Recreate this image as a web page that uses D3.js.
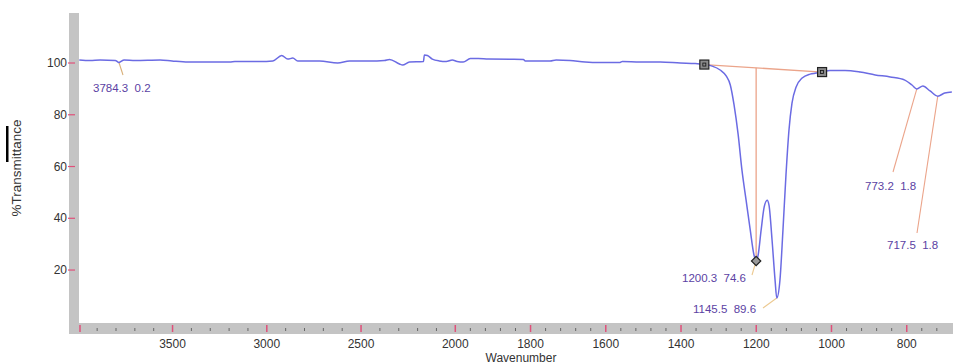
<!DOCTYPE html>
<html>
<head>
<meta charset="utf-8">
<script src="https://cdn.jsdelivr.net/npm/d3@7"></script>
<style>
  html, body { margin: 0; padding: 0; background: #fff; }
  svg { display: block; }
  text { font-family: "Liberation Sans", Arial, sans-serif; }
</style>
</head>
<body>
<svg id="chart" width="953" height="364"></svg>
<script>
// ---- data ----
const wavenumbers = [3995,3937,3884,3804,3784.3,3757,3698,3566,3503,3418,3354,3196,3169,3037,2968,2921,2889,2862,2836,2720,2624,2561,2455,2376,2349,2296,2280,2243,2169,2164,2148,2122,2085,2048,2016,1995,1979,1960,1939,1912,1819,1814,1748,1732,1695,1655,1615,1562,1556,1509,1455,1402,1362,1338,1317,1296,1280,1269,1259,1248,1238,1227,1216,1206,1200.3,1195,1187,1179,1171,1166,1158,1150,1145.5,1137,1129,1121,1113,1105,1094,1078,1057,1041,1025,1004,964,924,884,844,805,786,773.2,757,738,717.5,699,680];
const transmittance = [101.2,101.0,101.2,101.0,100.2,101.2,101.0,101.2,100.8,100.4,100.4,100.4,100.6,100.6,100.8,102.9,101.5,101.9,100.8,100.8,100.0,100.8,100.8,101.0,101.4,99.6,99.2,100.4,100.6,103.1,102.9,101.5,100.8,100.6,101.2,100.6,100.4,101.7,101.7,101.5,101.4,100.8,100.8,101.2,101.0,100.4,100.2,100.2,100.6,100.4,100.4,100.0,99.8,99.4,98.8,97.3,95.0,91.5,83.8,72.2,58.6,47.0,35.5,25.8,23.5,25.8,35.5,44.3,47.0,45.0,31.6,16.1,9.2,16.1,35.5,56.7,74.1,84.5,90.7,94.2,95.7,96.1,96.5,97.1,97.1,96.5,95.4,94.6,93.4,91.5,90.0,91.1,89.2,87.2,88.4,88.8];

const xMajorTicks = [3500,3000,2500,2000,1800,1600,1400,1200,1000,800];
const yTicks = [20,40,60,80,100];
const peakWavenumbers = [3784.3,1200.3,1145.5,773.2,717.5];
const peakHeights = [0.2,74.6,89.6,1.8,1.8];
const baselineWavenumbers = [1338,1025];
const baselineValues = [99.4,96.5];

// ---- layout ----
const svg = d3.select("#chart");
const W = 953, H = 364;
const plotLeft = 79, plotTop = 13, plotBottom = 323;

const x = d3.scaleLinear().domain([4000,2000,677]).range([78.3,455.3,953]);
const y = d3.scaleLinear().domain([0,119.4]).range([321.8,12.8]);

// grey axis bars
svg.append("rect").attr("x",69).attr("y",plotTop).attr("width",10).attr("height",334-plotTop).attr("fill","#c4c4c4");
svg.append("rect").attr("x",69).attr("y",plotBottom).attr("width",W-69).attr("height",11).attr("fill","#c4c4c4");

// x minor ticks
const minorHigh = d3.range(3900,2000,-100).filter(v => v % 500 !== 0);
const minorLow = d3.range(1960,680,-40).filter(v => v % 200 !== 0);
svg.append("g").selectAll("line").data(minorHigh.concat(minorLow)).join("line")
  .attr("x1",d=>x(d)).attr("x2",d=>x(d)).attr("y1",328).attr("y2",331)
  .attr("stroke","#666").attr("stroke-width",1);

// x major ticks (red)
svg.append("g").selectAll("line").data([4000].concat(xMajorTicks)).join("line")
  .attr("x1",d=>Math.max(x(d),80)).attr("x2",d=>Math.max(x(d),80)).attr("y1",325).attr("y2",332)
  .attr("stroke","#e0507a").attr("stroke-width",1.5);

svg.append("g").selectAll("text").data(xMajorTicks).join("text")
  .attr("x",d=>x(d)).attr("y",348).attr("text-anchor","middle")
  .attr("font-size",12).attr("fill","#333").text(d=>d);

// y ticks
svg.append("g").selectAll("line").data(yTicks).join("line")
  .attr("x1",68).attr("x2",75).attr("y1",d=>y(d)).attr("y2",d=>y(d))
  .attr("stroke","#e0507a").attr("stroke-width",1.2);
svg.append("g").selectAll("text").data(yTicks).join("text")
  .attr("x",67).attr("y",d=>y(d)+4.2).attr("text-anchor","end")
  .attr("font-size",12).attr("fill","#333").text(d=>d);

// axis titles
svg.append("text").attr("x",521).attr("y",362).attr("text-anchor","middle")
  .attr("font-size",12).attr("fill","#333").text("Wavenumber");
svg.append("text").attr("transform","translate(21,168) rotate(-90)").attr("text-anchor","middle")
  .attr("font-size",13.5).attr("fill","#333").text("%Transmittance");
svg.append("rect").attr("x",6).attr("y",126).attr("width",2.5).attr("height",36).attr("fill","#000");

// clip
svg.append("clipPath").attr("id","clip").append("rect")
  .attr("x",plotLeft).attr("y",0).attr("width",W-plotLeft).attr("height",plotBottom);

const pts = wavenumbers.map((w,i)=>[w,transmittance[i]]);
const Tat = w => transmittance[wavenumbers.indexOf(w)];

const annColor = "#eba48a";
const ann = svg.append("g").attr("clip-path","url(#clip)");

// baseline between the two square markers
ann.append("line")
  .attr("x1",x(baselineWavenumbers[0])).attr("y1",y(baselineValues[0]))
  .attr("x2",x(baselineWavenumbers[1])).attr("y2",y(baselineValues[1]))
  .attr("stroke",annColor).attr("stroke-width",1.3);

// vertical peak line at 1200.3
const bl = d3.scaleLinear().domain(baselineWavenumbers).range(baselineValues);
ann.append("line")
  .attr("x1",x(1200.3)).attr("x2",x(1200.3))
  .attr("y1",y(bl(1200.3))).attr("y2",y(Tat(1200.3)))
  .attr("stroke",annColor).attr("stroke-width",1.3);

// leader lines (curve point -> label anchor; anchors are layout)
const labelLayout = {
  3784.3: {tx:93,  ty:92,  lx:123, ly:75},
  1200.3: {tx:682, ty:282, lx:752, ly:275},
  1145.5: {tx:693, ty:313, lx:763, ly:308},
  773.2:  {tx:865, ty:190, lx:893, ly:172},
  717.5:  {tx:887, ty:249, lx:917, ly:233}
};
peakWavenumbers.forEach((w,i)=>{
  const L = labelLayout[w];
  ann.append("line")
    .attr("x1",x(w)).attr("y1",y(Tat(w)))
    .attr("x2",L.lx).attr("y2",L.ly)
    .attr("stroke", (w===1200.3||w===1145.5) ? "#ecc990" : (w===3784.3 ? "#d9b07a" : annColor))
    .attr("stroke-width",1.1);
});

// spectrum curve
svg.append("path").datum(pts).attr("clip-path","url(#clip)")
  .attr("fill","none").attr("stroke","#6b6be3").attr("stroke-width",1.5)
  .attr("stroke-linejoin","round")
  .attr("d", d3.line().x(d=>x(d[0])).y(d=>y(d[1])).curve(d3.curveMonotoneX));

// square markers
baselineWavenumbers.forEach((w,i)=>{
  const cx = x(w), cy = y(baselineValues[i]);
  svg.append("rect").attr("x",cx-4.5).attr("y",cy-4.5).attr("width",9).attr("height",9)
    .attr("fill","#8a8a8a").attr("stroke","#222").attr("stroke-width",1.2);
  svg.append("rect").attr("x",cx-1.5).attr("y",cy-1.5).attr("width",3).attr("height",3)
    .attr("fill","none").attr("stroke","#111").attr("stroke-width",0.8);
});
// diamond marker at 1200.3
svg.append("rect")
  .attr("transform",`translate(${x(1200.3)},${y(Tat(1200.3))}) rotate(45)`)
  .attr("x",-3.3).attr("y",-3.3).attr("width",6.6).attr("height",6.6)
  .attr("fill","#9a9a9a").attr("stroke","#222").attr("stroke-width",1.2);

// peak labels
peakWavenumbers.forEach((w,i)=>{
  const L = labelLayout[w];
  svg.append("text").attr("x",L.tx).attr("y",L.ty)
    .attr("font-size",11.5).attr("fill","#5b42a3")
    .style("white-space","pre")
    .text(w.toFixed(1) + "  " + peakHeights[i].toFixed(1));
});
</script>
</body>
</html>
